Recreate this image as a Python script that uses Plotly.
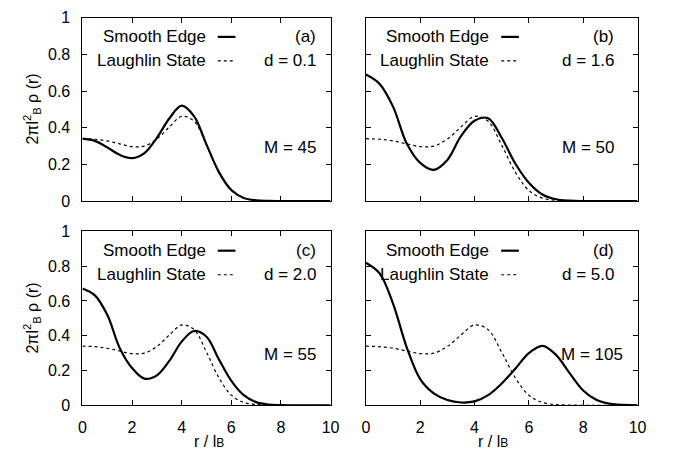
import plotly.graph_objects as go

# ---- data ----
r = [0, 0.5, 1, 1.5, 2, 2.5, 3, 3.5, 4, 4.5, 5, 5.5, 6, 6.5, 7, 7.5, 8, 8.5, 9, 9.5, 10]

laughlin = [0.340, 0.337, 0.328, 0.312, 0.297, 0.300, 0.338, 0.404, 0.462, 0.435, 0.305,
            0.158, 0.058, 0.016, 0.004, 0.001, 0.0, 0.0, 0.0, 0.0, 0.0]

smooth_a = [0.340, 0.328, 0.293, 0.252, 0.234, 0.262, 0.345, 0.450, 0.520, 0.462, 0.308,
            0.158, 0.060, 0.017, 0.004, 0.001, 0.0, 0.0, 0.0, 0.0, 0.0]
smooth_b = [0.690, 0.640, 0.515, 0.315, 0.208, 0.170, 0.224, 0.354, 0.438, 0.452, 0.345,
            0.205, 0.100, 0.036, 0.010, 0.002, 0.0, 0.0, 0.0, 0.0, 0.0]
smooth_c = [0.672, 0.632, 0.520, 0.330, 0.214, 0.153, 0.172, 0.255, 0.366, 0.427, 0.394,
            0.264, 0.140, 0.058, 0.018, 0.004, 0.001, 0.0, 0.0, 0.0, 0.0]
smooth_d = [0.820, 0.760, 0.585, 0.335, 0.150, 0.068, 0.030, 0.016, 0.022, 0.058, 0.125,
            0.210, 0.300, 0.342, 0.290, 0.185, 0.085, 0.030, 0.008, 0.002, 0.0]

panel_labels = ["(a)", "(b)", "(c)", "(d)"]
d_labels = ["d = 0.1", "d = 1.6", "d = 2.0", "d = 5.0"]
m_labels = ["M = 45", "M = 50", "M = 55", "M = 105"]
smooth_sets = [smooth_a, smooth_b, smooth_c, smooth_d]

x_ticks = [0, 2, 4, 6, 8, 10]
y_ticks = [0, 0.2, 0.4, 0.6, 0.8, 1]
y_tick_text = ["0", "0.2", "0.4", "0.6", "0.8", "1"]

W, H = 673, 460
FONT = "Liberation Sans, Arial, Helvetica, sans-serif"


def px(x):
    return x / W


def py(y):
    return 1 - y / H


# panel pixel boxes: (left, right, top, bottom)
boxes = [(80, 333, 10, 200.5), (369, 646, 10, 200.5),
         (80, 333, 232, 412.5), (369, 646, 232, 412.5)]

fig = go.Figure()

for i, (l, rgt, t, b) in enumerate(boxes):
    n = "" if i == 0 else str(i + 1)
    xa = "x" + n
    ya = "y" + n
    fig.add_trace(go.Scatter(x=r, y=laughlin, mode="lines", xaxis=xa, yaxis=ya,
                             line=dict(color="black", width=1.2, dash="dot", shape="spline", smoothing=1.0),
                             showlegend=False, hoverinfo="skip"))
    fig.add_trace(go.Scatter(x=r, y=smooth_sets[i], mode="lines", xaxis=xa, yaxis=ya,
                             line=dict(color="black", width=2.2, shape="spline", smoothing=1.0),
                             showlegend=False, hoverinfo="skip"))
    common = dict(showline=True, mirror="allticks", linecolor="black", linewidth=1,
                  ticks="inside", ticklen=5, tickwidth=1, tickcolor="black",
                  showgrid=False, zeroline=False,
                  tickfont=dict(family=FONT, size=16, color="black"))
    fig.layout["xaxis" + n] = dict(domain=[px(l), px(rgt)], range=[0, 10], tickvals=x_ticks,
                                   showticklabels=(i >= 2), ticklabelstandoff=8,
                                   anchor=ya, **common)
    fig.layout["yaxis" + n] = dict(domain=[py(b), py(t)], range=[0, 1], tickvals=y_ticks,
                                   ticktext=y_tick_text, showticklabels=(i % 2 == 0),
                                   ticklabelstandoff=8, anchor=xa, **common)

annotations = []
shapes = []
legend_font = dict(family=FONT, size=17, color="black")

for i, (l, rgt, t, b) in enumerate(boxes):
    row1 = t + 20
    row2 = t + 45
    text_right = l + 128
    annotations.append(dict(x=px(text_right), y=py(row1), xref="paper", yref="paper",
                            text="Smooth Edge", showarrow=False, xanchor="right",
                            yanchor="middle", font=legend_font))
    annotations.append(dict(x=px(text_right), y=py(row2), xref="paper", yref="paper",
                            text="Laughlin State", showarrow=False, xanchor="right",
                            yanchor="middle", font=legend_font))
    shapes.append(dict(type="line", xref="paper", yref="paper",
                       x0=px(text_right + 10), x1=px(text_right + 28), y0=py(row1), y1=py(row1),
                       line=dict(color="black", width=2.2)))
    shapes.append(dict(type="line", xref="paper", yref="paper",
                       x0=px(text_right + 10), x1=px(text_right + 28), y0=py(row2), y1=py(row2),
                       line=dict(color="black", width=1.2, dash="dot")))
    lab_right = rgt - (13 if i % 2 == 0 else 22)
    annotations.append(dict(x=px(lab_right), y=py(row1), xref="paper", yref="paper",
                            text=panel_labels[i], showarrow=False, xanchor="right",
                            yanchor="middle", font=legend_font))
    annotations.append(dict(x=px(lab_right), y=py(row2), xref="paper", yref="paper",
                            text=d_labels[i], showarrow=False, xanchor="right",
                            yanchor="middle", font=legend_font))
    m_right = lab_right + (9 if i == 3 else 0)
    m_y = b - 0.29 * (b - t)
    annotations.append(dict(x=px(m_right), y=py(m_y), xref="paper", yref="paper",
                            text=m_labels[i], showarrow=False, xanchor="right",
                            yanchor="middle", font=legend_font))

# axis titles
ytitle = "2πl<sup>2</sup><sub>B</sub> ρ (r)"
for yc in [105, 322]:
    annotations.append(dict(x=px(29), y=py(yc), xref="paper", yref="paper", text=ytitle,
                            showarrow=False, textangle=-90, xanchor="center", yanchor="middle",
                            font=dict(family=FONT, size=16, color="black")))
xtitle = "r / l<span style='font-size:12px'>B</span>"
for xc in [209, 499]:
    annotations.append(dict(x=px(xc), y=py(450), xref="paper", yref="paper", text=xtitle,
                            showarrow=False, xanchor="center", yanchor="middle",
                            font=dict(family=FONT, size=16, color="black")))

fig.update_layout(width=W, height=H, margin=dict(l=0, r=0, t=0, b=0),
                  paper_bgcolor="white", plot_bgcolor="white",
                  annotations=annotations, shapes=shapes, showlegend=False)

# remove the default 8px page margin so the figure sits at the window's corner
fig.write_html("out.html", config={"displayModeBar": False},
               post_script="document.body.style.margin='0';document.body.style.overflow='hidden';")
